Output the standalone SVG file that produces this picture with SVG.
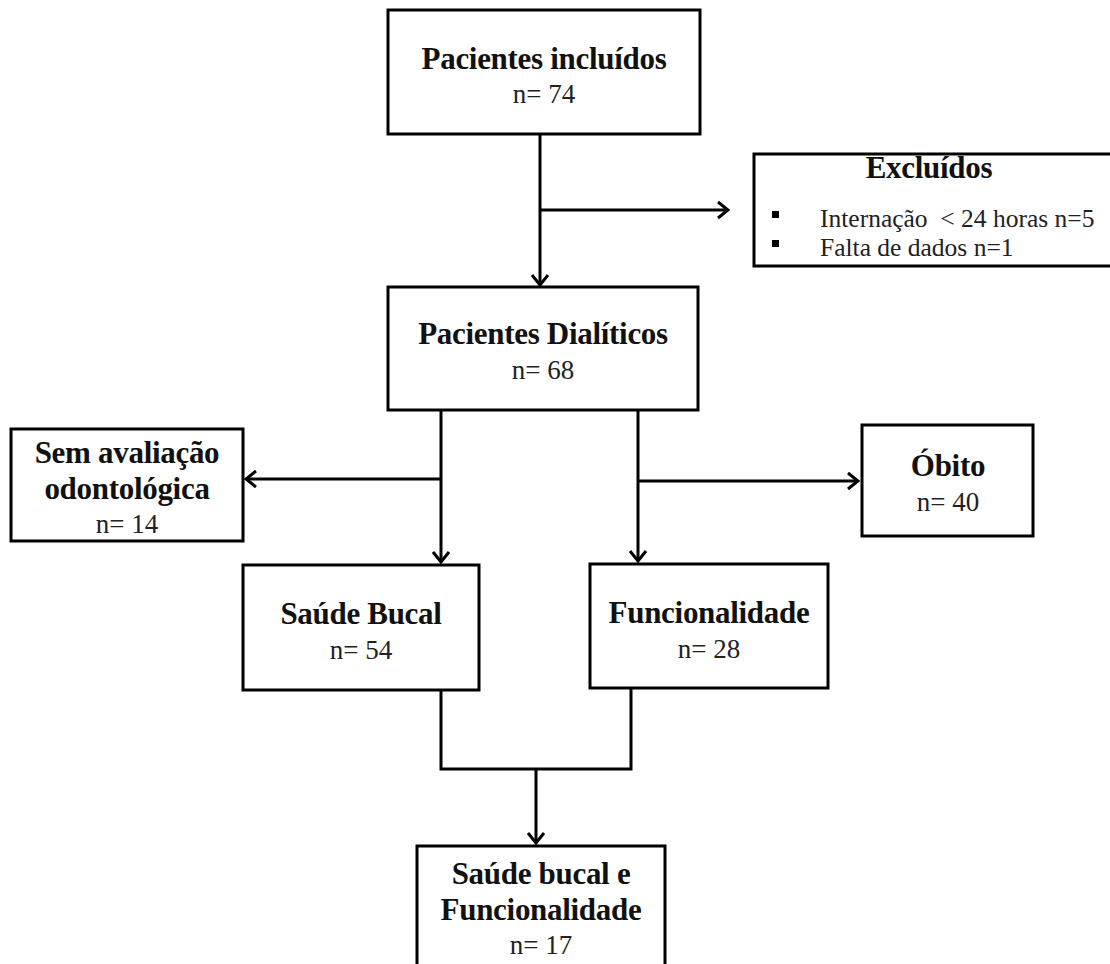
<svg xmlns="http://www.w3.org/2000/svg" width="1110" height="964" viewBox="0 0 1110 964">
<style>
.box{fill:#fff;stroke:#000;stroke-width:3}
.t{font-family:"Liberation Serif","Times New Roman",serif;font-weight:bold;font-size:31px;text-anchor:middle;fill:#111;letter-spacing:-0.3px}
.n{font-family:"Liberation Serif","Times New Roman",serif;font-size:27px;text-anchor:middle;fill:#222}
.l{font-family:"Liberation Serif","Times New Roman",serif;font-size:25.5px;fill:#222;white-space:pre}
.c{fill:none;stroke:#000;stroke-width:3}
</style>
<defs>
<marker id="arr" viewBox="-13 -10 15 20" markerWidth="15" markerHeight="20" refX="0" refY="0" orient="auto" markerUnits="userSpaceOnUse">
<path d="M-10,-8 L0,0 L-10,8" fill="none" stroke="#000" stroke-width="3"/>
</marker>
</defs>
<rect width="1110" height="964" fill="#fff"/>
<g id="connectors">
<path class="c" d="M540,134 V285" marker-end="url(#arr)"/>
<path class="c" d="M540,210 H728" marker-end="url(#arr)"/>
<path class="c" d="M441,410 V562" marker-end="url(#arr)"/>
<path class="c" d="M441,479 H246" marker-end="url(#arr)"/>
<path class="c" d="M638,410 V561" marker-end="url(#arr)"/>
<path class="c" d="M638,481 H858" marker-end="url(#arr)"/>
<path class="c" d="M441,690 V769 H631 V688"/>
<path class="c" d="M536,769 V843" marker-end="url(#arr)"/>
</g>
<g id="incluidos">
<rect class="box" x="388" y="10" width="312" height="124"/>
<text class="t" x="544" y="69">Pacientes incluídos</text>
<text class="n" x="544" y="103">n= 74</text>
</g>
<g id="excluidos">
<rect class="box" x="754" y="154" width="360" height="112"/>
<text class="t" x="929" y="178">Excluídos</text>
<rect x="772" y="211" width="7" height="7" fill="#000"/>
<rect x="772" y="240" width="7" height="7" fill="#000"/>
<text class="l" x="820" y="227">Internação  &lt; 24 horas n=5</text>
<text class="l" x="820" y="256">Falta de dados n=1</text>
</g>
<g id="dialiticos">
<rect class="box" x="388" y="287" width="310" height="123"/>
<text class="t" x="543" y="344">Pacientes Dialíticos</text>
<text class="n" x="543" y="379">n= 68</text>
</g>
<g id="sem-avaliacao">
<rect class="box" x="11" y="429" width="232" height="112"/>
<text class="t" x="127" y="463">Sem avaliação</text>
<text class="t" x="127" y="499">odontológica</text>
<text class="n" x="127" y="533">n= 14</text>
</g>
<g id="obito">
<rect class="box" x="862" y="425" width="171" height="111"/>
<text class="t" x="948" y="476">Óbito</text>
<text class="n" x="948" y="511">n= 40</text>
</g>
<g id="saude-bucal">
<rect class="box" x="243" y="565" width="236" height="125"/>
<text class="t" x="361" y="624">Saúde Bucal</text>
<text class="n" x="361" y="659">n= 54</text>
</g>
<g id="funcionalidade">
<rect class="box" x="590" y="564" width="238" height="124"/>
<text class="t" x="709" y="623">Funcionalidade</text>
<text class="n" x="709" y="658">n= 28</text>
</g>
<g id="saude-func">
<rect class="box" x="417" y="846" width="248" height="130"/>
<text class="t" x="541" y="884">Saúde bucal e</text>
<text class="t" x="541" y="920">Funcionalidade</text>
<text class="n" x="541" y="954">n= 17</text>
</g>
</svg>
